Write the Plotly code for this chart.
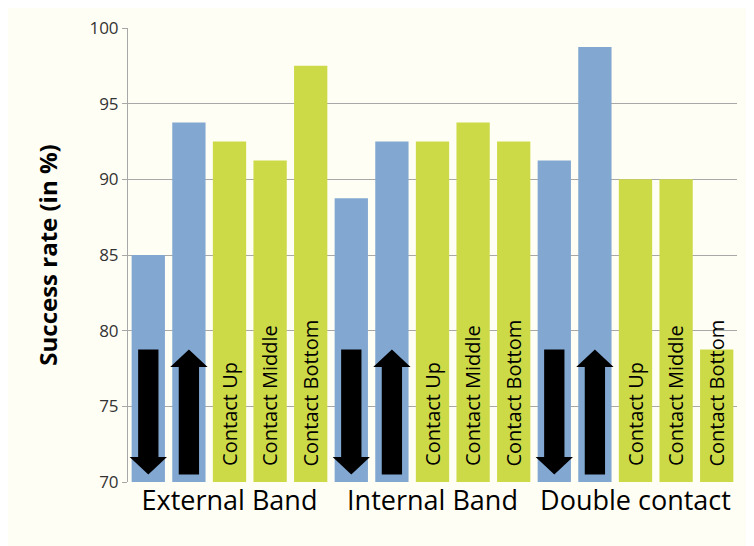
import plotly.graph_objects as go

# --- Data ---
groups = ["External Band", "Internal Band", "Double contact"]
conditions = ["down", "up", "Contact Up", "Contact Middle", "Contact Bottom"]
external_band = [85.0, 93.75, 92.5, 91.25, 97.5]
internal_band = [88.75, 92.5, 92.5, 93.75, 92.5]
double_contact = [91.25, 98.75, 90.0, 90.0, 78.75]

values = external_band + internal_band + double_contact
labels = conditions * len(groups)

BLUE = "#82A8D2"
GREEN = "#CDDA48"
BG = "#FFFEF4"
FONT = "Open Sans"
Y_MIN = 70

x_pos = list(range(len(values)))
colors = [BLUE if c in ("down", "up") else GREEN for c in labels]

fig = go.Figure()
fig.add_trace(go.Bar(
    x=x_pos, y=[v - Y_MIN for v in values], base=Y_MIN,
    marker=dict(color=colors, line=dict(width=0)),
    hoverinfo="skip",
))

# --- Rotated labels inside the green bars ---
annotations = []
for i, c in enumerate(labels):
    if c in ("down", "up"):
        continue
    annotations.append(dict(
        x=i, y=70.9, xref="x", yref="y", text=c, showarrow=False,
        textangle=-90, xanchor="center", yanchor="bottom",
        font=dict(family=FONT, size=20, color="black"),
    ))

# --- Arrows drawn inside blue bars ---
arrow_top, arrow_bottom = 78.75, 70.5
head_len, shaft_w, head_w = 1.15, 0.25, 0.46
shapes = []
for i, c in enumerate(labels):
    if c == "down":
        pts = [(i - shaft_w, arrow_top), (i + shaft_w, arrow_top),
               (i + shaft_w, arrow_bottom + head_len), (i + head_w, arrow_bottom + head_len),
               (i, arrow_bottom), (i - head_w, arrow_bottom + head_len),
               (i - shaft_w, arrow_bottom + head_len)]
    elif c == "up":
        pts = [(i - shaft_w, arrow_bottom), (i + shaft_w, arrow_bottom),
               (i + shaft_w, arrow_top - head_len), (i + head_w, arrow_top - head_len),
               (i, arrow_top), (i - head_w, arrow_top - head_len),
               (i - shaft_w, arrow_top - head_len)]
    else:
        continue
    path = "M " + " L ".join(f"{px},{py}" for px, py in pts) + " Z"
    shapes.append(dict(type="path", path=path, xref="x", yref="y",
                       fillcolor="black", line=dict(width=0), layer="above"))

# page body adds an 8px offset, so the figure is sized to fit the window
fig.update_layout(
    width=746, height=538,
    paper_bgcolor=BG, plot_bgcolor=BG,
    margin=dict(l=120, r=17, t=20, b=64),
    bargap=0.18,
    showlegend=False,
    shapes=shapes,
    annotations=annotations,
    font=dict(family=FONT, color="#404040"),
)
fig.update_xaxes(
    range=[-0.5, len(values) - 0.5],
    tickvals=[2, 7, 12], ticktext=groups,
    tickfont=dict(size=27, color="black"),
    showgrid=False, zeroline=False, showline=False, ticks="",
    ticklabelstandoff=0, automargin=False,
)
fig.update_yaxes(
    range=[70, 100], tickvals=[70, 75, 80, 85, 90, 95, 100],
    ticktext=["70", "75", "80", "85", "90", "95", "100"],
    tickfont=dict(size=17, color="#333333"),
    showgrid=True, gridcolor="#A8A8A8", gridwidth=1,
    showline=True, linecolor="#A8A8A8", linewidth=1,
    ticks="outside", ticklen=5, tickcolor="#A8A8A8",
    zeroline=False, automargin=False,
    title=dict(text="<b>Success rate (in %)</b>", font=dict(size=24, color="black"), standoff=25),
)

fig.write_html("out.html")
